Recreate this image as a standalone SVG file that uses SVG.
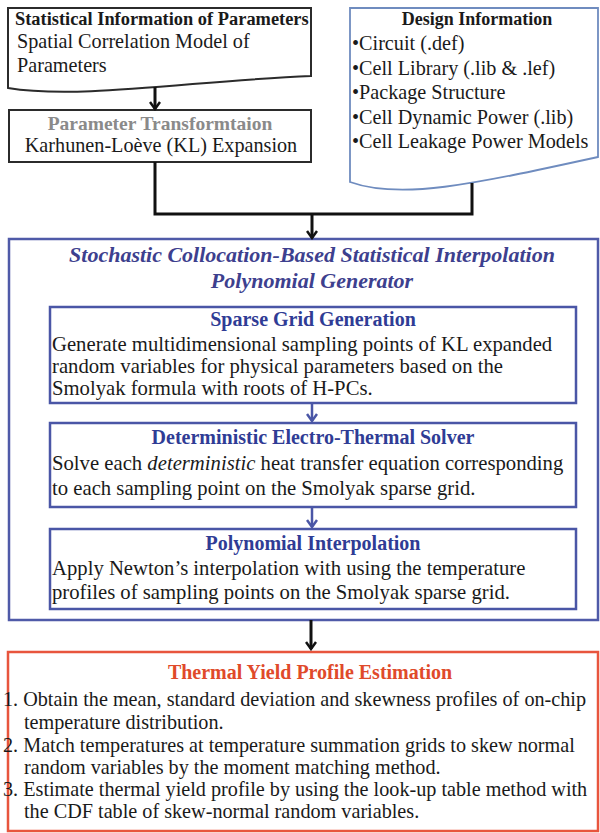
<svg xmlns="http://www.w3.org/2000/svg" width="600" height="833" viewBox="0 0 600 833">
<style>
text{font-family:"Liberation Serif","Times New Roman",serif;fill:#1a1a1a}
.b{font-weight:bold}
.reg{font-size:20.2px}
.body{font-size:20.7px}
.rbody{font-size:20.2px}
.ititle{font-size:20px;font-weight:bold;fill:#2f3c95}
.blk{fill:#fff;stroke:#2b2b2b;stroke-width:2}
.inner{fill:#fff;stroke:#4a56a6;stroke-width:2.5}
.conn{fill:none;stroke:#111;stroke-width:3}
.bconn{fill:none;stroke:#4a56a6;stroke-width:2.5}
</style>
<defs>
<marker id="ah" viewBox="0 0 10 12" refX="8.5" refY="6" markerWidth="10" markerHeight="12" markerUnits="userSpaceOnUse" orient="auto">
<path d="M1.5,1 L8.5,6 L1.5,11" fill="none" stroke="#111" stroke-width="2.5"/>
</marker>
<marker id="bh" viewBox="0 0 10 12" refX="8.5" refY="6" markerWidth="10" markerHeight="12" markerUnits="userSpaceOnUse" orient="auto">
<path d="M1.5,1 L8.5,6 L1.5,11" fill="none" stroke="#4a56a6" stroke-width="2.5"/>
</marker>
</defs>
<rect width="600" height="833" fill="#fff"/>

<g id="stat-info">
<path class="blk" d="M8,8 H311 V76 C200,80 80,100 8,88 Z"/>
<text class="b" x="15" y="25" font-size="18.4">Statistical Information of Parameters</text>
<text class="reg" x="17" y="48">Spatial Correlation Model of</text>
<text class="reg" x="17" y="72">Parameters</text>
</g>

<g id="param-transform">
<rect class="blk" x="9" y="110" width="302" height="52"/>
<text class="b" x="160" y="130" font-size="19.5" text-anchor="middle" style="fill:#8a8a8a">Parameter Transformtaion</text>
<text class="reg" x="161" y="152" text-anchor="middle">Karhunen-Loève (KL) Expansion</text>
</g>

<g id="design-info">
<path d="M350,8 H598 V157 C470,185 400,200 350,182 Z" fill="#fff" stroke="#6f8cbf" stroke-width="1.8"/>
<text class="b" x="477" y="25" font-size="18" text-anchor="middle">Design Information</text>
<text class="reg" x="352" y="50">•Circuit (.def)</text>
<text class="reg" x="352" y="74.5">•Cell Library (.lib &amp; .lef)</text>
<text class="reg" x="352" y="99">•Package Structure</text>
<text class="reg" x="352" y="123.5">•Cell Dynamic Power (.lib)</text>
<text class="reg" x="352" y="148">•Cell Leakage Power Models</text>
</g>

<g id="sc-generator">
<rect x="9" y="239" width="589" height="381" fill="#fff" stroke="#4f5aa8" stroke-width="2.5"/>
<text x="312" y="262" font-size="22" font-weight="bold" font-style="italic" text-anchor="middle" style="fill:#3d408e">Stochastic Collocation-Based Statistical Interpolation</text>
<text x="312" y="288" font-size="22" font-weight="bold" font-style="italic" text-anchor="middle" style="fill:#3d408e">Polynomial Generator</text>
</g>

<g id="sparse-grid">
<rect class="inner" x="50" y="307" width="526" height="96"/>
<text class="ititle" x="313" y="326" text-anchor="middle">Sparse Grid Generation</text>
<text class="body" x="52" y="351">Generate multidimensional sampling points of KL expanded</text>
<text class="body" x="52" y="373">random variables for physical parameters based on the</text>
<text class="body" x="52" y="395">Smolyak formula with roots of H-PCs.</text>
</g>

<g id="det-solver">
<rect class="inner" x="50" y="423" width="526" height="84"/>
<text class="ititle" x="313" y="444" text-anchor="middle">Deterministic Electro-Thermal Solver</text>
<text class="body" x="52" y="470">Solve each <tspan font-style="italic">deterministic</tspan> heat transfer equation corresponding</text>
<text class="body" x="52" y="495">to each sampling point on the Smolyak sparse grid.</text>
</g>

<g id="poly-interp">
<rect class="inner" x="50" y="529" width="526" height="80"/>
<text class="ititle" x="313" y="550" text-anchor="middle">Polynomial Interpolation</text>
<text class="body" x="52" y="575">Apply Newton’s interpolation with using the temperature</text>
<text class="body" x="52" y="599">profiles of sampling points on the Smolyak sparse grid.</text>
</g>

<g id="thermal-yield">
<rect x="8" y="652" width="590" height="179" fill="#fff" stroke="#e8553d" stroke-width="2.5"/>
<text x="310" y="679" font-size="20" font-weight="bold" text-anchor="middle" style="fill:#e04a2a">Thermal Yield Profile Estimation</text>
<text class="rbody" x="3" y="706">1. Obtain the mean, standard deviation and skewness profiles of on-chip</text>
<text class="rbody" x="24" y="729">temperature distribution.</text>
<text class="rbody" x="3" y="752">2. Match temperatures at temperature summation grids to skew normal</text>
<text class="rbody" x="24" y="774">random variables by the moment matching method.</text>
<text class="rbody" x="3" y="796">3. Estimate thermal yield profile by using the look-up table method with</text>
<text class="rbody" x="24" y="818">the CDF table of skew-normal random variables.</text>
</g>

<g id="connectors">
<path class="conn" d="M155,87 V109" marker-end="url(#ah)"/>
<path class="conn" d="M155,162 V214 H472 V183"/>
<path class="conn" d="M312,214 V238" marker-end="url(#ah)"/>
<path class="bconn" d="M312,403 V421" marker-end="url(#bh)"/>
<path class="bconn" d="M312,507 V527" marker-end="url(#bh)"/>
<path class="conn" d="M311,620 V649" marker-end="url(#ah)"/>
</g>
</svg>
